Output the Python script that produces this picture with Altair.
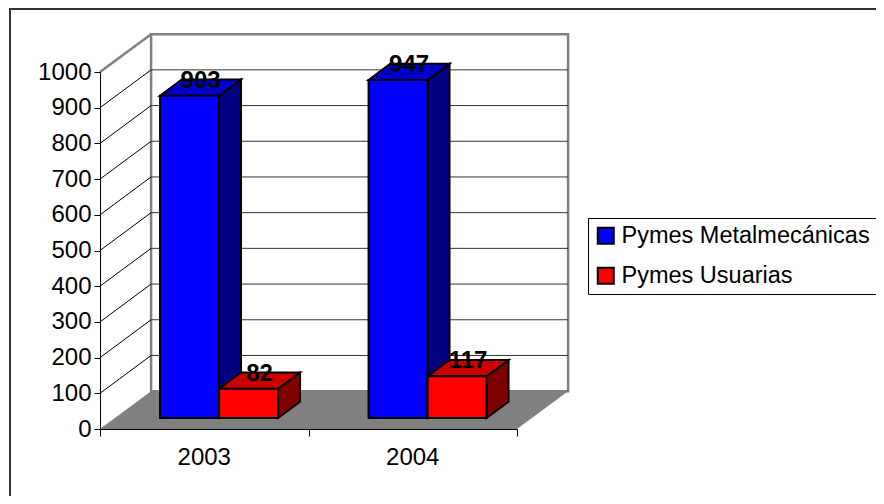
import altair as alt
import pandas as pd

# ---- data ----
categories = ["2003", "2004"]
series = ["Pymes Metalmecánicas", "Pymes Usuarias"]
metal = [903, 947]
usuarias = [82, 117]
y_ticks = [0, 100, 200, 300, 400, 500, 600, 700, 800, 900, 1000]

# ---- styles ----
front_colors = ["#0000FF", "#FF0000"]
top_colors = ["#0000CC", "#CC0000"]
side_colors = ["#000080", "#800000"]
FONT = "Liberation Sans"

# 3D geometry (in scale units): depth offset of the back wall, bar depth fractions, bar width
DX, DY = 0.245, 106
F1, F2 = 0.29, 0.72
BW = 0.283
YMAX = y_ticks[-1]
NCAT = len(categories)

fronts, tops, sides, labels = [], [], [], []
for i, cat in enumerate(categories):
    for j, (s, vals) in enumerate(zip(series, [metal, usuarias])):
        h = vals[i]
        c = i + 0.5
        a = c - BW + j * BW
        b = a + BW
        bid = f"{cat}-{j}"
        fronts.append(dict(id=bid, series=s, x=a + F1 * DX, x2=b + F1 * DX,
                           y=F1 * DY, y2=h + F1 * DY))
        tops += [dict(id=bid, fill=top_colors[j], y=h + F1 * DY, x=a + F1 * DX, x2=b + F1 * DX),
                 dict(id=bid, fill=top_colors[j], y=h + F2 * DY, x=a + F2 * DX, x2=b + F2 * DX)]
        sides += [dict(id=bid, fill=side_colors[j], x=b + F1 * DX, y=F1 * DY, y2=h + F1 * DY),
                  dict(id=bid, fill=side_colors[j], x=b + F2 * DX, y=F2 * DY, y2=h + F2 * DY)]
        fm = (F1 + F2) / 2
        labels.append(dict(x=(a + b) / 2 + fm * DX, y=h + fm * DY, text=str(h)))

X = alt.Scale(domain=[0, NCAT], nice=False, zero=False)
Y = alt.Scale(domain=[0, YMAX], nice=False, zero=False)

x_axis = alt.Axis(values=list(range(NCAT + 1)), labels=False, title=None, grid=False,
                  tickSize=7, tickColor="black", domainColor="black", zindex=1)
y_axis = alt.Axis(values=y_ticks, format="d", title=None, grid=False, labelFontSize=24,
                  labelFont=FONT, labelColor="black", domainColor="black", tickColor="black",
                  tickSize=6, labelPadding=3, zindex=1, labelOverlap=False)


def xq(field="x"):
    return alt.X(f"{field}:Q", scale=X, axis=x_axis)


def yq(field="y"):
    return alt.Y(f"{field}:Q", scale=Y, axis=y_axis)


one = pd.DataFrame({"k": [0]})

frame = alt.Chart(one).mark_rect(fill="transparent", stroke="#333333", strokeWidth=2).encode(
    x=alt.value(-90), x2=alt.value(790), y=alt.value(-63), y2=alt.value(480))

side_wall = alt.Chart(pd.DataFrame([dict(x=0, y=0, y2=YMAX), dict(x=DX, y=DY, y2=YMAX + DY)])).mark_area(
    orient="vertical", fill="white").encode(x=xq(), y=yq(), y2="y2")

back_wall = alt.Chart(pd.DataFrame([dict(x=DX, x2=NCAT + DX, y=DY, y2=YMAX + DY)])).mark_rect(
    fill="white", stroke="#808080", strokeWidth=2.5).encode(x=xq(), x2="x2", y=yq(), y2="y2")

grid_back = alt.Chart(pd.DataFrame([dict(x=DX, x2=NCAT + DX, y=v + DY) for v in y_ticks[1:-1]])).mark_rule(
    color="#333333", strokeWidth=1).encode(x=xq(), x2="x2", y=yq(), y2="y")

grid_side = alt.Chart(pd.DataFrame([dict(x=0, x2=DX, y=v, y2=v + DY) for v in y_ticks[1:-1]])).mark_rule(
    color="black", strokeWidth=1).encode(x=xq(), x2="x2", y=yq(), y2="y2")

wall_top = alt.Chart(pd.DataFrame([dict(x=0, x2=DX, y=YMAX, y2=YMAX + DY)])).mark_rule(
    color="#808080", strokeWidth=2.5).encode(x=xq(), x2="x2", y=yq(), y2="y2")

floor = alt.Chart(pd.DataFrame([dict(y=0, x=0, x2=NCAT), dict(y=DY, x=DX, x2=NCAT + DX)])).mark_area(
    orient="horizontal", fill="#808080").encode(y=yq(), x=xq(), x2="x2")

side_faces = alt.Chart(pd.DataFrame(sides)).mark_area(
    orient="vertical", stroke="black", strokeWidth=2, strokeJoin="miter").encode(
    x=xq(), y=yq(), y2="y2", detail="id:N", fill=alt.Fill("fill:N", scale=None))

top_faces = alt.Chart(pd.DataFrame(tops)).mark_area(
    orient="horizontal", stroke="black", strokeWidth=2, strokeJoin="miter").encode(
    y=yq(), x=xq(), x2="x2", detail="id:N", fill=alt.Fill("fill:N", scale=None))

front_faces = alt.Chart(pd.DataFrame(fronts)).mark_rect(stroke="black", strokeWidth=2).encode(
    x=xq(), x2="x2", y=yq(), y2="y2",
    color=alt.Color("series:N", scale=alt.Scale(domain=series, range=front_colors),
                    legend=alt.Legend(orient="none", legendX=488, legendY=146, direction="vertical",
                                      title=None, symbolType="square", symbolSize=256,
                                      symbolStrokeColor="black", symbolStrokeWidth=2,
                                      labelFontSize=23.5, labelFont=FONT, labelColor="black",
                                      labelLimit=400, labelOffset=4, rowPadding=15, padding=6,
                                      strokeColor="black", fillColor="white", cornerRadius=0)))

value_labels = alt.Chart(pd.DataFrame(labels)).mark_text(
    fontSize=24, fontWeight="bold", font=FONT, color="black", baseline="alphabetic", align="center").encode(
    x=xq(), y=yq(), text="text:N")

cat_labels = alt.Chart(pd.DataFrame([dict(x=i + 0.5, y=0, cat=c) for i, c in enumerate(categories)])).mark_text(
    fontSize=24, font=FONT, color="black", baseline="alphabetic", align="center", dy=36).encode(
    x=xq(), y=yq(), text="cat:N")

chart = alt.layer(
    frame, side_wall, back_wall, grid_back, grid_side, wall_top, floor,
    side_faces, top_faces, front_faces, value_labels, cat_labels
).properties(
    width=417, height=357,
    padding={"left": 92, "top": 64, "right": 359, "bottom": 67},
    autosize=alt.AutoSizeParams(type="none"),
).configure_view(stroke=None).configure(font=FONT)

chart.save("out.html", embed_options={"renderer": "svg", "actions": False})
